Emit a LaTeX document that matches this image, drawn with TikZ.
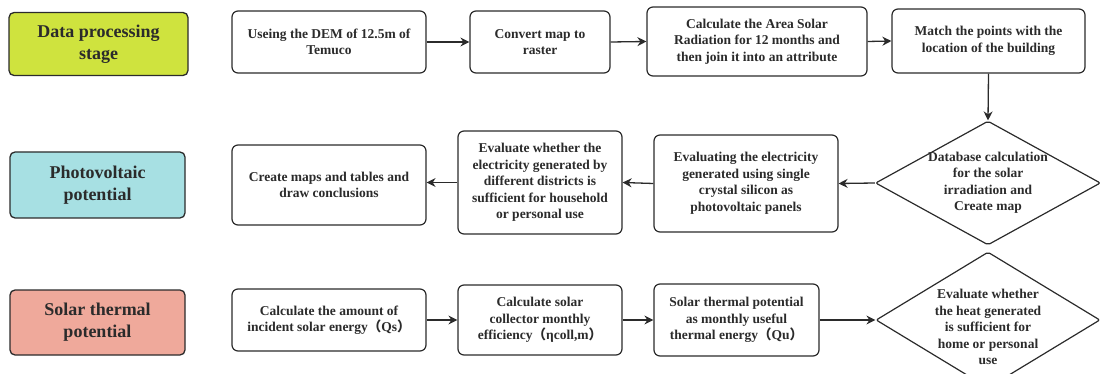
\documentclass[tikz,border=0pt]{standalone}
\usepackage{fontspec}
\setmainfont{Liberation Serif}[BoldFont={Liberation Serif Bold}]
\newfontfamily\cjkfont{Noto Sans CJK SC}
\usetikzlibrary{shapes.geometric,arrows.meta}
\definecolor{stageA}{HTML}{CFE33E}
\definecolor{stageB}{HTML}{A7E0E3}
\definecolor{stageC}{HTML}{EFA99B}
\definecolor{ink}{HTML}{2B2B2B}
\newcommand{\lp}{{\cjkfont （}}
\newcommand{\rp}{{\cjkfont ）}}
\tikzset{
  stagebox/.style={draw=ink, line width=1.3pt, rounded corners=5pt, align=center, inner sep=0pt,
    font=\fontsize{18}{22}\selectfont\bfseries, text=ink},
  procbox/.style={draw=ink, line width=1.2pt, rounded corners=6pt, fill=white, align=center, inner sep=0pt,
    font=\fontsize{13.5}{16.5}\selectfont\bfseries, text=ink},
  decbox/.style={draw=ink, line width=1.2pt, shape=diamond, inner sep=0pt, rounded corners=2pt},
  dectext/.style={align=center, inner sep=0pt, font=\fontsize{13.5}{16.5}\selectfont\bfseries, text=ink},
  flow/.style={draw=ink, line width=1.3pt, -{Stealth[length=9pt,width=9pt]}}
}
\begin{document}
\begin{tikzpicture}[x=1pt,y=-1pt]
\useasboundingbox (0,0) rectangle (1103,374);
\clip (0,0) rectangle (1103,374);
% stage labels
\node[stagebox, fill=stageA, minimum width=179pt, minimum height=63pt] (s1) at (98.5,44) {Data processing\\stage};
\node[stagebox, fill=stageB, minimum width=175pt, minimum height=66pt] (s2) at (97.5,185) {Photovoltaic\\potential};
\node[stagebox, fill=stageC, minimum width=175pt, minimum height=65pt] (s3) at (97.5,322.5) {Solar thermal\\potential};
% row 1
\node[procbox, minimum width=194pt, minimum height=62pt] (b1) at (329,42) {Useing the DEM of 12.5m of\\Temuco};
\node[procbox, minimum width=140pt, minimum height=62pt] (b2) at (540,42) {Convert map to\\raster};
\node[procbox, minimum width=220pt, minimum height=69pt] (b3) at (757,41.5) {Calculate the Area Solar\\Radiation for 12 months and\\then join it into an attribute};
\node[procbox, minimum width=193pt, minimum height=64pt] (b4) at (988.5,41) {Match the points with the\\location of the building};
% row 2
\node[decbox, minimum width=225pt, minimum height=124pt] (d1) at (988,183) {};
\node[dectext] (d1t) at (d1.center) {Database calculation\\for the solar\\irradiation and\\Create map};
\node[procbox, minimum width=184pt, minimum height=97pt] (c3) at (746,183.5) {Evaluating the electricity\\generated using single\\crystal silicon as\\photovoltaic panels};
\node[procbox, minimum width=164pt, minimum height=103pt] (c2) at (540,182.5) {Evaluate whether the\\electricity generated by\\different districts is\\sufficient for household\\or personal use};
\node[procbox, minimum width=194pt, minimum height=80pt] (c1) at (329,185) {Create maps and tables and\\draw conclusions};
% row 3
\node[procbox, minimum width=194pt, minimum height=62pt] (e1) at (329,320) {Calculate the amount of\\incident solar energy\lp Qs\rp};
\node[procbox, minimum width=164pt, minimum height=70pt] (e2) at (540,320) {Calculate solar\\collector monthly\\efficiency\lp ηcoll,m\rp};
\node[procbox, minimum width=165pt, minimum height=72pt] (e3) at (736.5,320) {Solar thermal potential\\as monthly useful\\thermal energy\lp Qu\rp};
\node[decbox, minimum width=224pt, minimum height=136pt] (d2) at (988,320) {};
\node[dectext] (d2t) at (988,327) {Evaluate whether\\the heat generated\\is sufficient for\\home or personal\\use};
% connectors
\draw[flow] (b1.east) -- (b2.west);
\draw[flow] (b2.east) -- (b3.west);
\draw[flow] (b3.east) -- (b4.west);
\draw[flow] (b4.south) -- (d1.north);
\draw[flow] (d1.west) -- (c3.east);
\draw[flow] (c3.west) -- (c2.east);
\draw[flow] (c2.west) -- (c2.west -| c1.east);
\draw[flow] (e1.east) -- (e2.west);
\draw[flow] (e2.east) -- (e3.west);
\draw[flow] (e3.east) -- (d2.west);
\end{tikzpicture}
\end{document}
